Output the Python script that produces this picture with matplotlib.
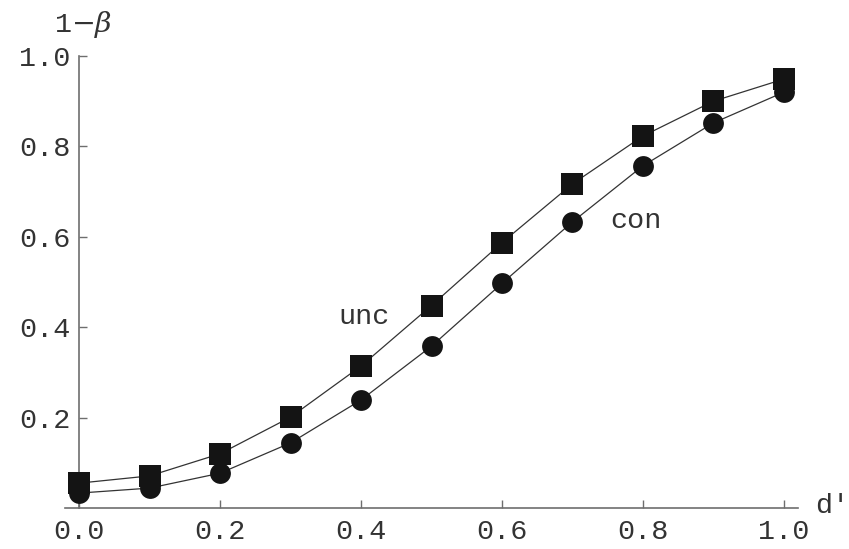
import matplotlib.pyplot as plt

# datos
d_prima = [0.0, 0.1, 0.2, 0.3, 0.4, 0.5, 0.6, 0.7, 0.8, 0.9, 1.0]
unc = [0.055, 0.071, 0.120, 0.201, 0.314, 0.448, 0.587, 0.717, 0.823, 0.900, 0.949]
con = [0.033, 0.044, 0.077, 0.144, 0.239, 0.358, 0.497, 0.633, 0.757, 0.852, 0.920]

x_ticks = [0.0, 0.2, 0.4, 0.6, 0.8, 1.0]
y_ticks = [0.2, 0.4, 0.6, 0.8, 1.0]

plt.rcParams['font.family'] = ['Liberation Mono', 'DejaVu Sans']
plt.rcParams['mathtext.fontset'] = 'dejavuserif'

fig = plt.figure(figsize=(8.49, 5.49), dpi=100)
ax = fig.add_axes([65 / 849, 41 / 549, 733 / 849, 452 / 549])

color_eje = '#6e6e6e'
color_texto = '#333333'
tam = 20.5

# curvas
ax.plot(d_prima, unc, color='#333333', lw=0.9, clip_on=False, zorder=2)
ax.plot(d_prima, con, color='#333333', lw=0.9, clip_on=False, zorder=2)
ax.plot(d_prima, unc, 's', color='#141414', ms=16, mew=0, clip_on=False, zorder=3)
ax.plot(d_prima, con, 'o', color='#141414', ms=15, mew=0, clip_on=False, zorder=3)

ax.set_xlim(-0.02, 1.02)
ax.set_ylim(0, 1)

# ejes cruzados en el origen al estilo Mathematica
for lado in ['top', 'right']:
    ax.spines[lado].set_visible(False)
ax.spines['left'].set_position(('data', 0))
ax.spines['bottom'].set_position(('data', 0))
ax.spines['left'].set_bounds(0, 1)
ax.spines['bottom'].set_bounds(-0.02, 1.02)
for lado in ['left', 'bottom']:
    ax.spines[lado].set_color(color_eje)
    ax.spines[lado].set_linewidth(1.2)

ax.set_xticks(x_ticks)
ax.set_xticklabels([f"{t:.1f}" for t in x_ticks])
ax.set_yticks(y_ticks)
ax.set_yticklabels([f"{t:.1f}" for t in y_ticks])
ax.tick_params(axis='both', direction='in', length=6, width=1, color=color_eje,
               labelsize=tam, labelcolor=color_texto)
ax.tick_params(axis='x', pad=8)
ax.tick_params(axis='y', pad=6)

# etiquetas
ax.text(-0.035, 1.07, r'1$-\beta$', fontsize=tam, color=color_texto, ha='left', va='center',
        clip_on=False)
ax.text(1.045, 0.005, "d'", fontsize=tam, color=color_texto, ha='left', va='center',
        clip_on=False)
ax.text(0.405, 0.423, 'unc', fontsize=tam, color=color_texto, ha='center', va='center')
ax.text(0.79, 0.635, 'con', fontsize=tam, color=color_texto, ha='center', va='center')

fig.savefig('out.png', dpi=100)
